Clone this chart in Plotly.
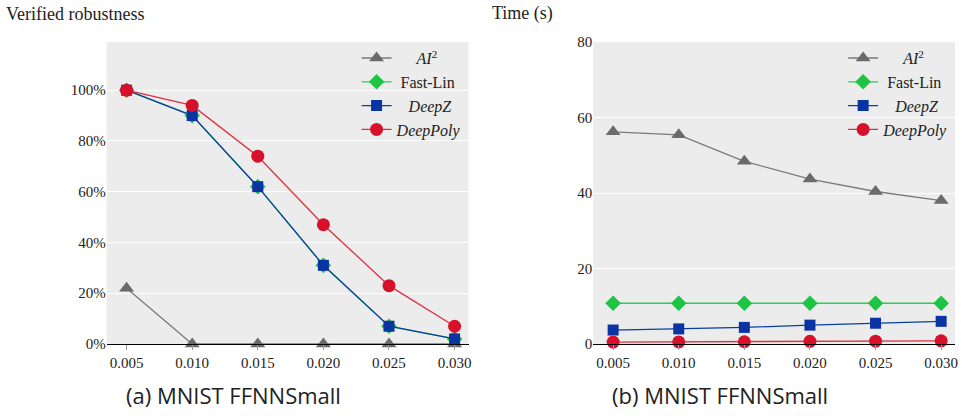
import plotly.graph_objects as go
from plotly.subplots import make_subplots

eps = [0.005, 0.010, 0.015, 0.020, 0.025, 0.030]
eps_labels = ["0.005", "0.010", "0.015", "0.020", "0.025", "0.030"]

# (a) verified robustness, percent
rob_ai2 = [22, 0, 0, 0, 0, 0]
rob_fastlin = [100, 90, 62, 31, 7, 2]
rob_deepz = [100, 90, 62, 31, 7, 2]
rob_deeppoly = [100, 94, 74, 47, 23, 7]

# (b) time in seconds
time_ai2 = [56.2, 55.4, 48.4, 43.7, 40.4, 38.0]
time_fastlin = [10.8, 10.8, 10.8, 10.8, 10.8, 10.8]
time_deepz = [3.7, 4.0, 4.4, 5.0, 5.5, 6.0]
time_deeppoly = [0.5, 0.55, 0.6, 0.7, 0.75, 0.85]

names = ["&nbsp;&nbsp;&nbsp;&nbsp;&nbsp;<i>AI</i><sup>2</sup>", "&nbsp;Fast-Lin",
         "&nbsp;&nbsp;&nbsp;<i>DeepZ</i>", "<i>DeepPoly</i>"]
colors = ["#6b6b6b", "#1ec443", "#0a33a3", "#d8112b"]
line_colors = ["#7a7a7a", "#2ecc55", "#0a3fa0", "#e03040"]
symbols = ["triangle-up", "diamond", "square", "circle"]
sizes = [13, 12, 11, 13]

fig = make_subplots(rows=1, cols=2, horizontal_spacing=0.1)

serif = "Liberation Serif, Times New Roman, serif"

left_series = [rob_ai2, rob_fastlin, rob_deepz, rob_deeppoly]
right_series = [time_ai2, time_fastlin, time_deepz, time_deeppoly]

for i in range(4):
    fig.add_trace(go.Scatter(
        x=eps, y=left_series[i], mode="lines+markers", name=names[i],
        line=dict(color=line_colors[i], width=1.3),
        marker=dict(symbol=symbols[i], size=sizes[i], color=colors[i]),
        cliponaxis=False, legend="legend"), row=1, col=1)
for i in range(4):
    fig.add_trace(go.Scatter(
        x=eps, y=right_series[i], mode="lines+markers", name=names[i],
        line=dict(color=line_colors[i], width=1.3),
        marker=dict(symbol=symbols[i], size=sizes[i], color=colors[i]),
        cliponaxis=False, legend="legend2"), row=1, col=2)

xaxis_common = dict(
    tickvals=eps, ticktext=eps_labels, range=[0.00348, 0.03106],
    showgrid=False, zeroline=False, ticks="outside", ticklen=5,
    tickcolor="#999999", tickfont=dict(family=serif, size=15, color="#222"),
    showline=True, linecolor="black", linewidth=1.2,
)
fig.update_xaxes(**xaxis_common, domain=[0.1105, 0.4855], row=1, col=1)
fig.update_xaxes(**xaxis_common, domain=[0.6147, 0.9897], row=1, col=2)

fig.update_yaxes(range=[0, 119], tickvals=[0, 20, 40, 60, 80, 100],
                 ticktext=["0%", "20%", "40%", "60%", "80%", "100%"],
                 gridcolor="white", gridwidth=1.3, zeroline=False,
                 ticks="", tickfont=dict(family=serif, size=15, color="#222"),
                 row=1, col=1)
fig.update_yaxes(range=[0, 80], tickvals=[0, 20, 40, 60, 80],
                 gridcolor="white", gridwidth=1.3, zeroline=False,
                 ticks="", tickfont=dict(family=serif, size=15, color="#222"),
                 row=1, col=2)

legend_common = dict(
    bgcolor="rgba(0,0,0,0)", font=dict(family=serif, size=16, color="#222"),
    xanchor="right", yanchor="top", tracegroupgap=0, itemwidth=30,
)
fig.update_layout(
    width=968, height=416,
    margin=dict(l=0, r=0, t=42, b=72),
    font=dict(family=serif, color="#222"),
    paper_bgcolor="white", plot_bgcolor="#ececec",
    legend=dict(**legend_common, x=0.4835, y=1.003),
    legend2=dict(**legend_common, x=0.9877, y=1.003),
    annotations=[
        dict(text="Verified robustness", xref="paper", yref="paper", x=0.004, y=1.093,
             xanchor="left", yanchor="middle", showarrow=False,
             font=dict(family=serif, size=18, color="#222")),
        dict(text="Time (s)", xref="paper", yref="paper", x=0.508, y=1.093,
             xanchor="left", yanchor="middle", showarrow=False,
             font=dict(family=serif, size=18, color="#222")),
        dict(text="(a) MNIST FFNNSmall", xref="paper", yref="paper", x=0.242, y=-0.169,
             xanchor="center", yanchor="middle", showarrow=False,
             font=dict(family="Open Sans", size=22, color="#222")),
        dict(text="(b) MNIST FFNNSmall", xref="paper", yref="paper", x=0.746, y=-0.169,
             xanchor="center", yanchor="middle", showarrow=False,
             font=dict(family="Open Sans", size=22, color="#222")),
    ],
)

fig.write_html("out.html")
